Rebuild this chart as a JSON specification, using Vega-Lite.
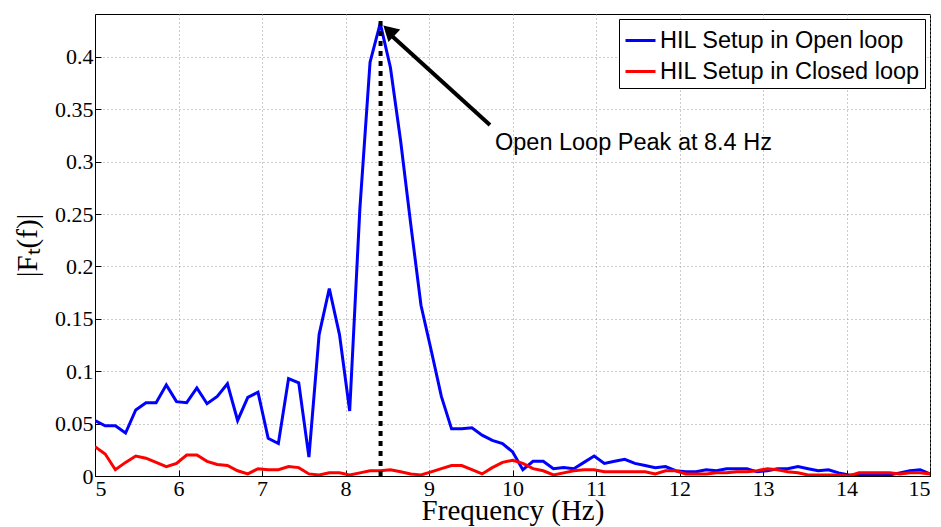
{
  "$schema": "https://vega.github.io/schema/vega-lite/v6.json",
  "width": 835,
  "height": 462,
  "autosize": {"type": "none"},
  "padding": {"left": 95, "top": 14, "right": 11, "bottom": 51},
  "background": "white",
  "config": {
    "view": {"stroke": "black", "strokeWidth": 1},
    "axis": {
      "domainColor": "black",
      "tickColor": "black",
      "labelColor": "black",
      "titleColor": "black",
      "labelFont": "Liberation Serif",
      "titleFont": "Liberation Serif",
      "labelFontSize": 22,
      "titleFontSize": 29,
      "titleFontWeight": "normal",
      "gridColor": "#999999",
      "gridDash": [1, 3],
      "gridWidth": 1,
      "tickSize": -6
    },
    "legend": {
      "orient": "top-right",
      "offset": 5,
      "strokeColor": "black",
      "fillColor": "white",
      "padding": 5,
      "labelFont": "Liberation Sans",
      "labelFontSize": 23.5,
      "labelColor": "black",
      "labelLimit": 400,
      "symbolType": "stroke",
      "symbolSize": 900,
      "symbolStrokeWidth": 3,
      "rowPadding": 3,
      "labelOffset": 3
    }
  },
  "layer": [
    {
      "data": {"values": [
        {"f": 5.000, "open": 0.053, "closed": 0.028},
        {"f": 5.122, "open": 0.048, "closed": 0.021},
        {"f": 5.244, "open": 0.048, "closed": 0.006},
        {"f": 5.366, "open": 0.041, "closed": 0.013},
        {"f": 5.488, "open": 0.063, "closed": 0.019},
        {"f": 5.610, "open": 0.070, "closed": 0.017},
        {"f": 5.732, "open": 0.070, "closed": 0.013},
        {"f": 5.854, "open": 0.087, "closed": 0.009},
        {"f": 5.976, "open": 0.071, "closed": 0.012},
        {"f": 6.098, "open": 0.070, "closed": 0.020},
        {"f": 6.220, "open": 0.084, "closed": 0.020},
        {"f": 6.342, "open": 0.069, "closed": 0.014},
        {"f": 6.464, "open": 0.076, "closed": 0.011},
        {"f": 6.586, "open": 0.088, "closed": 0.010},
        {"f": 6.708, "open": 0.053, "closed": 0.005},
        {"f": 6.830, "open": 0.075, "closed": 0.002},
        {"f": 6.952, "open": 0.080, "closed": 0.007},
        {"f": 7.074, "open": 0.036, "closed": 0.006},
        {"f": 7.196, "open": 0.031, "closed": 0.006},
        {"f": 7.318, "open": 0.093, "closed": 0.009},
        {"f": 7.440, "open": 0.089, "closed": 0.008},
        {"f": 7.562, "open": 0.018, "closed": 0.002},
        {"f": 7.684, "open": 0.135, "closed": 0.001},
        {"f": 7.806, "open": 0.179, "closed": 0.003},
        {"f": 7.928, "open": 0.135, "closed": 0.003},
        {"f": 8.050, "open": 0.062, "closed": 0.001},
        {"f": 8.172, "open": 0.255, "closed": 0.003},
        {"f": 8.294, "open": 0.395, "closed": 0.005},
        {"f": 8.416, "open": 0.432, "closed": 0.005},
        {"f": 8.538, "open": 0.390, "closed": 0.006},
        {"f": 8.660, "open": 0.320, "closed": 0.004},
        {"f": 8.782, "open": 0.240, "closed": 0.002},
        {"f": 8.904, "open": 0.163, "closed": 0.001},
        {"f": 9.026, "open": 0.120, "closed": 0.004},
        {"f": 9.148, "open": 0.076, "closed": 0.007},
        {"f": 9.270, "open": 0.045, "closed": 0.010},
        {"f": 9.392, "open": 0.045, "closed": 0.010},
        {"f": 9.514, "open": 0.046, "closed": 0.006},
        {"f": 9.636, "open": 0.039, "closed": 0.002},
        {"f": 9.758, "open": 0.034, "closed": 0.008},
        {"f": 9.880, "open": 0.031, "closed": 0.013},
        {"f": 10.002, "open": 0.023, "closed": 0.015},
        {"f": 10.124, "open": 0.006, "closed": 0.012},
        {"f": 10.246, "open": 0.014, "closed": 0.007},
        {"f": 10.368, "open": 0.014, "closed": 0.005},
        {"f": 10.490, "open": 0.007, "closed": 0.001},
        {"f": 10.612, "open": 0.008, "closed": 0.003},
        {"f": 10.734, "open": 0.007, "closed": 0.005},
        {"f": 10.856, "open": 0.013, "closed": 0.006},
        {"f": 10.978, "open": 0.019, "closed": 0.006},
        {"f": 11.100, "open": 0.012, "closed": 0.004},
        {"f": 11.222, "open": 0.014, "closed": 0.004},
        {"f": 11.344, "open": 0.016, "closed": 0.004},
        {"f": 11.466, "open": 0.012, "closed": 0.004},
        {"f": 11.588, "open": 0.010, "closed": 0.004},
        {"f": 11.710, "open": 0.008, "closed": 0.002},
        {"f": 11.832, "open": 0.009, "closed": 0.005},
        {"f": 11.954, "open": 0.005, "closed": 0.005},
        {"f": 12.076, "open": 0.004, "closed": 0.002},
        {"f": 12.198, "open": 0.004, "closed": 0.002},
        {"f": 12.320, "open": 0.006, "closed": 0.002},
        {"f": 12.442, "open": 0.005, "closed": 0.003},
        {"f": 12.564, "open": 0.007, "closed": 0.003},
        {"f": 12.686, "open": 0.007, "closed": 0.004},
        {"f": 12.808, "open": 0.007, "closed": 0.004},
        {"f": 12.930, "open": 0.004, "closed": 0.005},
        {"f": 13.052, "open": 0.005, "closed": 0.007},
        {"f": 13.174, "open": 0.007, "closed": 0.006},
        {"f": 13.296, "open": 0.007, "closed": 0.004},
        {"f": 13.418, "open": 0.009, "closed": 0.003},
        {"f": 13.540, "open": 0.007, "closed": 0.001},
        {"f": 13.662, "open": 0.005, "closed": 0.001},
        {"f": 13.784, "open": 0.006, "closed": 0.001},
        {"f": 13.906, "open": 0.003, "closed": 0.001},
        {"f": 14.028, "open": 0.001, "closed": 0.000},
        {"f": 14.150, "open": 0.001, "closed": 0.003},
        {"f": 14.272, "open": 0.001, "closed": 0.003},
        {"f": 14.394, "open": 0.001, "closed": 0.003},
        {"f": 14.516, "open": 0.001, "closed": 0.003},
        {"f": 14.638, "open": 0.003, "closed": 0.002},
        {"f": 14.760, "open": 0.005, "closed": 0.003},
        {"f": 14.882, "open": 0.006, "closed": 0.003},
        {"f": 15.004, "open": 0.002, "closed": 0.002}
      ]},
      "transform": [{"fold": ["open", "closed"], "as": ["series", "value"]}],
      "mark": {"type": "line", "strokeWidth": 3, "clip": true},
      "encoding": {
        "x": {
          "field": "f", "type": "quantitative",
          "scale": {"domain": [5, 15], "nice": false, "zero": false},
          "axis": {
            "title": "Frequency (Hz)",
            "values": [5, 6, 7, 8, 9, 10, 11, 12, 13, 14, 15],
            "format": "d",
            "labelPadding": 8,
            "titlePadding": -3,
            "grid": true
          }
        },
        "y": {
          "field": "value", "type": "quantitative",
          "scale": {"domain": [0, 0.441], "nice": false},
          "axis": {
            "title": "|Fₜ(f)|",
            "values": [0, 0.05, 0.1, 0.15, 0.2, 0.25, 0.3, 0.35, 0.4],
            "format": "~g",
            "labelPadding": 8,
            "titlePadding": 12,
            "grid": true
          }
        },
        "color": {
          "field": "series", "type": "nominal",
          "scale": {"domain": ["open", "closed"], "range": ["#0000FF", "#FF0000"]},
          "sort": ["open", "closed"],
          "legend": {
            "title": null,
            "labelExpr": "datum.label == 'open' ? 'HIL Setup in Open loop' : 'HIL Setup in Closed loop'"
          }
        }
      }
    },
    {
      "data": {"values": [{"x": 8.42, "y": 0, "y2": 0.437}]},
      "mark": {"type": "rule", "color": "black", "strokeWidth": 4, "strokeDash": [5, 5]},
      "encoding": {
        "x": {"field": "x", "type": "quantitative"},
        "y": {"field": "y", "type": "quantitative"},
        "y2": {"field": "y2"}
      }
    },
    {
      "data": {"values": [{"x": 9.73, "y": 0.335, "x2": 8.53, "y2": 0.422}]},
      "mark": {"type": "rule", "color": "black", "strokeWidth": 4},
      "encoding": {
        "x": {"field": "x", "type": "quantitative"},
        "y": {"field": "y", "type": "quantitative"},
        "x2": {"field": "x2"},
        "y2": {"field": "y2"}
      }
    },
    {
      "data": {"values": [{"x": 8.519, "y": 0.4251}]},
      "mark": {"type": "point", "shape": "triangle-up", "filled": true, "color": "black", "size": 300, "angle": 313, "opacity": 1},
      "encoding": {
        "x": {"field": "x", "type": "quantitative"},
        "y": {"field": "y", "type": "quantitative"}
      }
    },
    {
      "data": {"values": [{"x": 9.79, "y": 0.318, "label": "Open Loop Peak at 8.4 Hz"}]},
      "mark": {"type": "text", "align": "left", "baseline": "middle", "font": "Liberation Sans", "fontSize": 23.5, "color": "black"},
      "encoding": {
        "x": {"field": "x", "type": "quantitative"},
        "y": {"field": "y", "type": "quantitative"},
        "text": {"field": "label"}
      }
    }
  ]
}
